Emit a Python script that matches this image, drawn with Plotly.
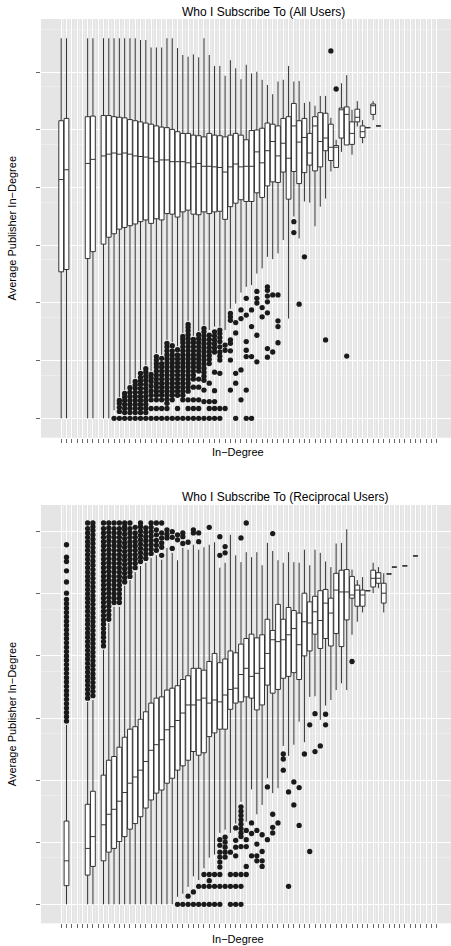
import plotly.graph_objects as go

# ---------------- Panel 1: Who I Subscribe To (All Users) ----------------
all_cats = [1, 2, 6, 7] + list(range(9, 62))
all_hi = [6.59, 6.59, 6.59, 6.59, 6.59, 6.59, 6.59, 6.59, 6.59, 6.59, 6.59, 6.56, 6.56, 6.43, 6.43, 6.43,
          6.59, 6.59, 6.42, 6.30, 6.27, 6.31, 6.26, 6.59, 6.30, 6.11, 6.11, 5.94, 6.21, 6.07, 5.88, 6.13,
          5.98, 6.01, 5.87, 5.78, 5.62, 5.84, 5.87, 6.11, 5.84, 5.85, 5.47, 5.49, 5.42, 5.59, 5.59, 5.21,
          4.83, 5.81, 5.95, 5.35, 5.50, 5.17, 5.04, 5.50, 5.07]
all_q3 = [5.16, 5.20, 5.23, 5.24, 5.25, 5.25, 5.23, 5.22, 5.21, 5.18, 5.16, 5.14, 5.12, 5.10, 5.07, 5.05,
          5.04, 5.01, 4.97, 4.94, 4.94, 4.91, 4.90, 4.88, 4.94, 4.91, 4.90, 4.88, 4.91, 4.94, 4.91, 4.83,
          4.99, 5.00, 5.03, 5.12, 5.10, 5.07, 5.20, 5.23, 5.46, 5.16, 5.20, 4.94, 5.23, 5.30, 5.29, 5.10,
          4.73, 5.38, 5.40, 5.14, 5.36, 5.07, 5.04, 5.45, 5.07]
all_med = [4.14, 4.31, 4.42, 4.49, 4.55, 4.58, 4.60, 4.58, 4.60, 4.58, 4.55, 4.54, 4.53, 4.51, 4.45, 4.48,
           4.48, 4.45, 4.45, 4.45, 4.43, 4.36, 4.42, 4.37, 4.37, 4.36, 4.35, 4.27, 4.36, 4.41, 4.36, 4.37,
           4.37, 4.62, 4.43, 4.64, 4.80, 4.55, 4.77, 4.51, 5.07, 4.79, 4.87, 4.60, 5.07, 4.80, 4.86, 4.70,
           4.70, 5.35, 5.27, 4.94, 5.22, 4.97, 5.04, 5.42, 5.07]
all_q1 = [2.54, 2.58, 2.77, 2.89, 3.02, 3.14, 3.20, 3.28, 3.31, 3.34, 3.37, 3.41, 3.44, 3.38, 3.46, 3.44,
          3.55, 3.54, 3.49, 3.58, 3.61, 3.54, 3.53, 3.58, 3.55, 3.58, 3.59, 3.45, 3.67, 3.73, 3.79, 3.76,
          3.76, 3.91, 3.83, 4.03, 4.10, 4.09, 4.27, 3.80, 4.28, 4.07, 4.26, 4.39, 4.29, 4.36, 4.64, 4.47,
          4.35, 4.86, 4.74, 4.75, 5.14, 4.87, 5.04, 5.27, 5.07]
all_lo = [0.00, 0.00, 0.00, 0.00, 0.00, 0.00, 0.14, 0.37, 0.49, 0.59, 0.70, 0.84, 0.92, 0.82, 1.13, 1.10,
          1.36, 1.32, 1.25, 1.48, 1.69, 1.43, 1.51, 1.62, 1.53, 1.59, 1.59, 1.53, 1.90, 1.99, 2.18, 2.28,
          2.31, 2.51, 2.60, 2.80, 2.76, 2.86, 3.09, 1.73, 3.50, 3.12, 3.76, 3.74, 3.33, 3.67, 3.81, 4.28,
          4.35, 4.62, 4.74, 4.57, 5.06, 4.77, 5.04, 5.17, 5.07]
all_outliers = {
    11: [0.0],
    12: [0.0, 0.12, 0.19, 0.26, 0.31],
    13: [0.0, 0.10, 0.17, 0.24, 0.31, 0.37, 0.43],
    14: [0.0, 0.10, 0.17, 0.24, 0.31, 0.38, 0.45, 0.53],
    15: [0.0, 0.10, 0.17, 0.24, 0.31, 0.38, 0.45, 0.52, 0.58, 0.64],
    16: [0.0, 0.10, 0.17, 0.24, 0.31, 0.38, 0.45, 0.52, 0.59, 0.65, 0.71, 0.78],
    17: [0.0, 0.10, 0.17, 0.24, 0.31, 0.38, 0.45, 0.52, 0.59, 0.66, 0.73, 0.80, 0.86],
    18: [0.0, 0.17, 0.32, 0.40, 0.48, 0.56, 0.64, 0.70, 0.76],
    19: [0.0, 0.17, 0.32, 0.40, 0.47, 0.54, 0.61, 0.68, 0.75, 0.82, 0.89, 0.95, 1.01, 1.07],
    20: [0.0, 0.17, 0.32, 0.40, 0.47, 0.54, 0.61, 0.68, 0.75, 0.82, 0.89, 0.95, 1.04],
    21: [0.0, 0.17, 0.26, 0.33, 0.40, 0.47, 0.54, 0.61, 0.68, 0.75, 0.82, 0.89, 0.96, 1.03, 1.10, 1.17, 1.24, 1.30],
    22: [0.0, 0.32, 0.40, 0.47, 0.54, 0.61, 0.68, 0.75, 0.82, 0.89, 0.96, 1.03, 1.10, 1.17, 1.26],
    23: [0.0, 0.17, 0.40, 0.47, 0.54, 0.61, 0.68, 0.75, 0.82, 0.89, 0.96, 1.03, 1.10, 1.19],
    24: [0.0, 0.32, 0.40, 0.47, 0.54, 0.61, 0.68, 0.75, 0.82, 0.89, 0.96, 1.03, 1.10, 1.17, 1.24, 1.31, 1.37, 1.42],
    25: [0.0, 0.17, 0.32, 0.47, 0.54, 0.61, 0.68, 0.75, 0.82, 0.89, 0.96, 1.03, 1.10, 1.17, 1.24, 1.31, 1.38,
         1.45, 1.52, 1.58, 1.63],
    26: [0.0, 0.17, 0.32, 0.54, 0.68, 0.75, 0.82, 0.89, 0.96, 1.03, 1.10, 1.17, 1.24, 1.31, 1.37],
    27: [0.0, 0.17, 0.32, 0.54, 0.68, 0.82, 0.89, 0.96, 1.03, 1.10, 1.17, 1.24, 1.31, 1.38, 1.45],
    28: [0.0, 0.29, 0.49, 0.66, 0.73, 0.80, 0.87, 0.94, 1.01, 1.08, 1.15, 1.22, 1.29, 1.36, 1.43, 1.50, 1.56],
    29: [0.0, 0.17, 0.29, 0.61, 0.95, 1.02, 1.09, 1.16, 1.23, 1.30, 1.37, 1.44],
    30: [0.0, 0.17, 0.29, 0.48, 0.80, 1.15, 1.22, 1.29, 1.36, 1.43, 1.50],
    31: [0.0, 0.17, 0.78, 1.01, 1.08, 1.15, 1.24, 1.33, 1.40, 1.47, 1.53],
    32: [0.17, 1.18, 1.27],
    33: [0.49, 1.01, 1.17, 1.30, 1.36, 1.70, 1.76, 1.82],
    34: [0.0, 0.61, 0.78, 1.48, 1.66],
    35: [0.32, 0.84, 1.73, 1.88],
    36: [0.0, 0.49, 1.07, 1.18, 1.33, 1.79, 2.08],
    37: [0.0, 1.07, 1.59, 1.88],
    38: [0.98, 1.44, 2.00, 2.08, 2.20],
    39: [1.76, 1.92],
    40: [1.06, 1.21, 1.83, 2.02, 2.12, 2.22, 2.28],
    41: [1.15, 2.14],
    42: [1.31, 1.59, 1.69, 2.14],
    45: [3.22, 3.41],
    46: [1.98],
    47: [2.80],
    51: [1.36],
    52: [6.37],
    53: [5.71],
    55: [1.08],
}

# ---------------- Panel 2: Who I Subscribe To (Reciprocal Users) ----------------
rec_cats = [2, 6, 7] + list(range(9, 63)) + [63, 64, 66, 68]
rec_hi = [2.89, 3.26, 3.29, 4.10, 4.53, 4.79, 4.79, 5.13, 5.22, 5.35, 5.45, 5.50, 5.58, 5.62, 5.55, 5.74,
          5.66, 5.54, 5.74, 5.71, 5.79, 5.71, 5.75, 5.79, 5.83, 5.42, 5.50, 5.95, 5.62, 5.51, 5.67, 5.59,
          5.67, 5.46, 5.82, 5.69, 5.54, 5.50, 5.67, 5.51, 5.50, 5.71, 5.46, 5.71, 5.66, 5.52, 5.43, 5.81,
          5.82, 6.04, 5.39, 5.22, 5.27, 5.05, 5.50, 5.43, 5.33, 5.32, 5.43, 5.45, 5.61]
rec_q3 = [1.34, 1.61, 1.82, 2.08, 2.32, 2.38, 2.53, 2.69, 2.82, 2.86, 2.98, 3.10, 3.24, 3.32, 3.34, 3.45,
          3.48, 3.52, 3.62, 3.68, 3.80, 3.80, 3.77, 3.91, 4.04, 3.89, 3.95, 4.08, 4.05, 4.19, 4.28, 4.35,
          4.29, 4.34, 4.59, 4.41, 4.83, 4.59, 4.78, 4.73, 4.69, 5.01, 4.87, 4.96, 5.05, 5.07, 4.93, 5.33,
          5.38, 5.39, 5.28, 5.14, 5.06, 5.05, 5.38, 5.34, 5.17, 5.32, 5.43, 5.45, 5.61]
rec_med = [0.70, 0.90, 1.09, 1.28, 1.45, 1.53, 1.66, 1.80, 1.95, 2.05, 2.16, 2.30, 2.48, 2.57, 2.65, 2.81,
           2.86, 2.96, 3.08, 3.21, 3.21, 3.29, 3.32, 3.24, 3.29, 3.26, 3.37, 3.46, 3.48, 3.70, 3.80, 3.67,
           3.72, 3.80, 4.04, 4.26, 4.23, 4.26, 4.34, 4.44, 4.18, 4.55, 4.53, 4.71, 4.57, 4.85, 4.69, 5.06,
           5.03, 5.03, 4.98, 5.06, 4.98, 5.05, 5.25, 5.25, 5.01, 5.32, 5.43, 5.45, 5.61]
rec_q1 = [0.30, 0.47, 0.61, 0.70, 0.84, 0.90, 1.01, 1.09, 1.21, 1.30, 1.41, 1.55, 1.68, 1.79, 1.84, 1.95,
          2.03, 2.16, 2.23, 2.32, 2.46, 2.40, 2.44, 2.70, 2.76, 2.82, 2.82, 3.14, 3.24, 3.26, 3.34, 3.32,
          3.13, 3.21, 3.53, 3.40, 3.46, 3.64, 3.67, 3.73, 3.62, 4.00, 4.08, 4.35, 4.12, 4.28, 4.16, 4.36,
          4.15, 4.58, 4.93, 4.80, 4.80, 5.05, 5.11, 5.17, 4.85, 5.32, 5.43, 5.45, 5.61]
rec_lo = [0.00, 0.00, 0.00, 0.00, 0.00, 0.00, 0.00, 0.00, 0.00, 0.00, 0.00, 0.00, 0.00, 0.00, 0.00, 0.00,
          0.00, 0.12, 0.17, 0.28, 0.45, 0.39, 0.58, 0.75, 0.80, 1.15, 1.20, 1.15, 1.30, 1.65, 1.33, 1.85,
          1.45, 1.60, 2.03, 1.79, 1.87, 2.55, 2.39, 2.57, 2.94, 2.61, 3.34, 3.35, 2.97, 3.20, 3.29, 3.45,
          3.56, 3.45, 4.34, 4.55, 4.70, 5.05, 5.01, 5.09, 4.70, 5.32, 5.43, 5.45, 5.61]
rec_outliers = {
    2: [2.95, 3.02, 3.09, 3.16, 3.23, 3.30, 3.37, 3.44, 3.51, 3.58, 3.65, 3.72, 3.79, 3.86, 3.93, 4.00, 4.07,
        4.14, 4.21, 4.28, 4.35, 4.42, 4.49, 4.56, 4.63, 4.70, 4.77, 4.84, 4.91, 5.01, 5.19, 5.37, 5.52, 5.59, 5.79],
    6: [3.32, 3.39, 3.46, 3.53, 3.60, 3.67, 3.74, 3.81, 3.88, 3.95, 4.02, 4.09, 4.16, 4.23, 4.30, 4.37, 4.44,
        4.51, 4.58, 4.65, 4.72, 4.79, 4.86, 4.93, 5.00, 5.07, 5.14, 5.21, 5.28, 5.35, 5.42, 5.49, 5.56, 5.63,
        5.70, 5.77, 5.84, 5.91, 5.98, 6.05, 6.14],
    7: [3.36, 3.43, 3.50, 3.57, 3.64, 3.71, 3.78, 3.85, 3.92, 3.99, 4.06, 4.13, 4.20, 4.27, 4.34, 4.41, 4.48,
        4.55, 4.62, 4.69, 4.76, 4.83, 4.90, 4.97, 5.04, 5.11, 5.18, 5.25, 5.32, 5.39, 5.46, 5.53, 5.60, 5.67,
        5.74, 5.81, 5.88, 5.95, 6.02, 6.08, 6.14],
    9: [4.16, 4.23, 4.30, 4.37, 4.44, 4.51, 4.58, 4.65, 4.72, 4.79, 4.86, 4.93, 5.00, 5.07, 5.14, 5.21, 5.28,
        5.35, 5.42, 5.49, 5.56, 5.63, 5.70, 5.77, 5.84, 5.91, 5.98, 6.05, 6.14],
    10: [4.59, 4.66, 4.73, 4.80, 4.87, 4.94, 5.01, 5.08, 5.15, 5.22, 5.29, 5.36, 5.43, 5.50, 5.57, 5.64, 5.71,
         5.78, 5.85, 5.92, 5.99, 6.06, 6.14],
    11: [4.86, 4.93, 5.00, 5.07, 5.14, 5.21, 5.28, 5.35, 5.42, 5.49, 5.56, 5.63, 5.70, 5.77, 5.84, 5.91, 5.98,
         6.05, 6.14],
    12: [4.86, 4.93, 5.00, 5.07, 5.14, 5.21, 5.28, 5.35, 5.42, 5.49, 5.56, 5.63, 5.70, 5.77, 5.84, 5.91, 5.98,
         6.05, 6.14],
    13: [5.19, 5.26, 5.33, 5.40, 5.47, 5.54, 5.61, 5.68, 5.75, 5.82, 5.89, 5.96, 6.03, 6.08, 6.14],
    14: [5.28, 5.35, 5.42, 5.49, 5.56, 5.63, 5.70, 5.77, 5.84, 5.91, 5.98, 6.05, 6.14],
    15: [5.42, 5.49, 5.56, 5.63, 5.70, 5.77, 5.84, 5.91, 5.98, 6.07],
    16: [5.52, 5.59, 5.66, 5.73, 5.80, 5.87, 5.94, 6.01, 6.08, 6.14],
    17: [5.57, 5.64, 5.71, 5.78, 5.85, 5.92, 5.99, 6.06],
    18: [5.65, 5.72, 5.79, 5.86, 5.93, 6.00, 6.07, 6.14],
    19: [5.70, 5.78, 5.86, 5.95, 6.03, 6.14],
    20: [5.62, 5.75, 5.82, 5.90, 5.98, 6.14],
    21: [5.90, 5.96, 6.03],
    22: [5.73, 5.91, 6.00],
    23: [0.0, 5.87, 5.95],
    24: [0.0, 5.81, 5.92, 5.98],
    25: [0.0, 0.13, 5.83],
    26: [0.0, 0.20, 5.98, 6.03],
    27: [0.0, 0.29, 5.84, 5.98],
    28: [0.0, 0.29, 0.48],
    29: [0.0, 0.29, 0.38, 0.48, 6.07],
    30: [0.0, 0.29, 0.48],
    31: [0.0, 0.29, 0.48, 0.60, 0.68, 0.76, 0.84, 0.95, 1.04, 5.62, 5.92],
    32: [0.29, 0.76, 0.84, 0.92, 1.00, 1.08, 5.66, 5.76],
    33: [0.0, 0.29, 0.48, 0.84],
    34: [0.0, 0.29, 0.48, 0.78, 0.92, 1.03, 1.23],
    35: [0.0, 0.29, 0.48, 0.93, 1.09, 1.15, 1.22, 1.29, 1.36, 1.43, 1.50, 1.57, 5.90],
    36: [0.48, 0.61, 0.93, 1.04, 1.19, 6.14],
    37: [0.78, 1.14, 1.31],
    38: [0.70, 0.78, 0.97, 1.19],
    39: [0.61, 0.70, 0.85, 1.12],
    40: [1.04, 1.89],
    41: [1.15, 1.24, 1.45, 5.97],
    42: [1.31],
    43: [2.16, 2.34, 2.42],
    44: [0.29, 1.81],
    45: [1.60, 1.97],
    46: [1.27, 1.88],
    47: [2.42],
    48: [0.85, 2.89],
    49: [2.46, 3.07],
    50: [2.55],
    51: [2.89, 3.06],
    56: [3.91],
}

n_categories = 72
titles = ["Who I Subscribe To (All Users)", "Who I Subscribe To (Reciprocal Users)"]
x_title = "In\u2212Degree"
y_title = "Average Publisher In\u2212Degree"

# ---------------- Figure ----------------
W, H = 451, 946
FONT = "Liberation Sans, Arial, Helvetica, sans-serif"
fig = go.Figure()


def add_panel(cats, lo, q1, med, q3, hi, outliers, xa, ya):
    fig.add_trace(go.Box(
        x=cats, lowerfence=lo, q1=q1, median=med, q3=q3, upperfence=hi,
        boxpoints=False, width=0.9, whiskerwidth=0,
        fillcolor="white", line=dict(color="#333333", width=1),
        xaxis=xa, yaxis=ya, hoverinfo="skip", showlegend=False,
    ))
    ox, oy = [], []
    for c, vals in outliers.items():
        for v in vals:
            ox.append(c)
            oy.append(v)
    fig.add_trace(go.Scatter(
        x=ox, y=oy, mode="markers",
        marker=dict(color="#1a1a1a", size=5.3, line=dict(width=0)),
        xaxis=xa, yaxis=ya, hoverinfo="skip", showlegend=False,
    ))


add_panel(all_cats, all_lo, all_q1, all_med, all_q3, all_hi, all_outliers, "x", "y")
add_panel(rec_cats, rec_lo, rec_q1, rec_med, rec_q3, rec_hi, rec_outliers, "x2", "y2")

major_x = list(range(1, n_categories + 1))
minor_x = [k + 0.5 for k in range(1, n_categories)]
major_y = [0, 1, 2, 3, 4, 5, 6]
minor_y = [0.75, 1.75, 2.75, 3.75, 4.75, 5.75, 6.75]


def xaxis_cfg(ydom_anchor):
    return dict(
        domain=[41 / W, 1.0], range=[-2.82, 74.72], anchor=ydom_anchor,
        tickmode="array", tickvals=major_x, showticklabels=False,
        ticks="outside", ticklen=4, tickwidth=1, tickcolor="#666666",
        showgrid=True, gridcolor="white", gridwidth=1, zeroline=False, showline=False,
        minor=dict(tickmode="array", tickvals=minor_x, showgrid=True,
                   gridcolor="#F2F2F2", gridwidth=0.6, ticks=""),
        fixedrange=True,
    )


def yaxis_cfg(dom, rng, xanchor):
    return dict(
        domain=dom, range=rng, anchor=xanchor,
        tickmode="array", tickvals=major_y, showticklabels=False,
        ticks="outside", ticklen=4, tickwidth=1, tickcolor="#666666",
        showgrid=True, gridcolor="white", gridwidth=1, zeroline=False, showline=False,
        minor=dict(tickmode="array", tickvals=minor_y, showgrid=True,
                   gridcolor="#F2F2F2", gridwidth=0.6, ticks=""),
        fixedrange=True,
    )


fig.update_layout(
    width=W, height=H, margin=dict(l=0, r=0, t=0, b=0),
    paper_bgcolor="white", plot_bgcolor="#E5E5E5", showlegend=False,
    font=dict(family=FONT, color="#000000"),
    xaxis=xaxis_cfg("y"),
    yaxis=yaxis_cfg([1 - 437.7 / H, 1 - 19 / H], [-0.336, 6.924], "x"),
    xaxis2=xaxis_cfg("y2"),
    yaxis2=yaxis_cfg([1 - 923.3 / H, 1 - 505 / H], [-0.306, 6.43], "x2"),
)

ann = []
for t, py in zip(titles, [12, 496.5]):
    ann.append(dict(text=t, x=180 / W, y=1 - py / H, xref="paper", yref="paper",
                    xanchor="left", yanchor="middle", showarrow=False,
                    font=dict(size=12, family=FONT, color="#000000")))
for py in [452, 938.5]:
    ann.append(dict(text=x_title, x=237.5 / W, y=1 - py / H, xref="paper", yref="paper",
                    xanchor="center", yanchor="middle", showarrow=False,
                    font=dict(size=11, family=FONT, color="#000000")))
for py in [228.4, 714.2]:
    ann.append(dict(text=y_title, x=12 / W, y=1 - py / H, xref="paper", yref="paper",
                    xanchor="center", yanchor="middle", textangle=-90, showarrow=False,
                    font=dict(size=11, family=FONT, color="#000000")))
fig.update_layout(annotations=ann)

fig.write_html("out.html", config={"displayModeBar": False, "staticPlot": True},
               post_script="document.body.style.margin='0';document.body.style.overflow='hidden';")
